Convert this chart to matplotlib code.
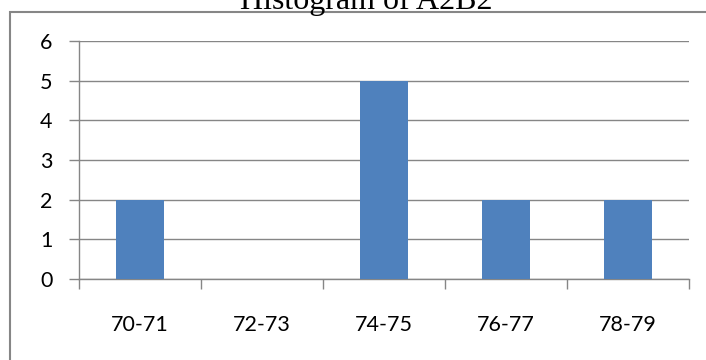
import matplotlib.pyplot as plt
from matplotlib.patches import Rectangle
from matplotlib.ticker import FixedLocator

bins = ['70-71', '72-73', '74-75', '76-77', '78-79']
counts = [2, 0, 5, 2, 2]

BAR = '#4F81BD'
GRID = '#868686'

fig = plt.figure(figsize=(7.06, 3.6), dpi=100)
ax = fig.add_axes([79 / 706, 1 - 279 / 360, 610 / 706, 238 / 360])

pos = list(range(len(bins)))
ax.bar(pos, counts, width=0.4, color=BAR, zorder=3)

ax.set_xlim(-0.5, len(bins) - 0.5)
ax.set_ylim(0, 6)
ax.set_yticks(range(0, 7))
ax.yaxis.grid(True, color=GRID, linewidth=1)
ax.set_axisbelow(True)

ax.set_xticks(pos)
ax.set_xticklabels(bins)
ax.xaxis.set_minor_locator(FixedLocator([p - 0.5 for p in range(len(bins) + 1)]))
ax.tick_params(axis='x', which='major', length=0, pad=26)
ax.tick_params(axis='x', which='minor', length=7, width=1, color=GRID)
ax.tick_params(axis='y', length=7, width=1, color=GRID, pad=12)
for lab in ax.get_xticklabels() + ax.get_yticklabels():
    lab.set_fontfamily('Lato')
    lab.set_fontsize(15.5)

for side in ('top', 'right'):
    ax.spines[side].set_visible(False)
for side in ('left', 'bottom'):
    ax.spines[side].set_color(GRID)
    ax.spines[side].set_linewidth(1)

# chart frame, cut off at right and bottom
fig.patches.append(Rectangle((10 / 706, -0.2), 1.0, 1 - 12 / 360 + 0.2,
                             transform=fig.transFigure, fill=False,
                             edgecolor=GRID, linewidth=1.5))
fig.text(366 / 706, 1 - 9 / 360, 'Histogram of A2B2', ha='center',
         va='baseline', fontsize=23, fontfamily='Liberation Serif')

fig.savefig('out.png', dpi=100)
